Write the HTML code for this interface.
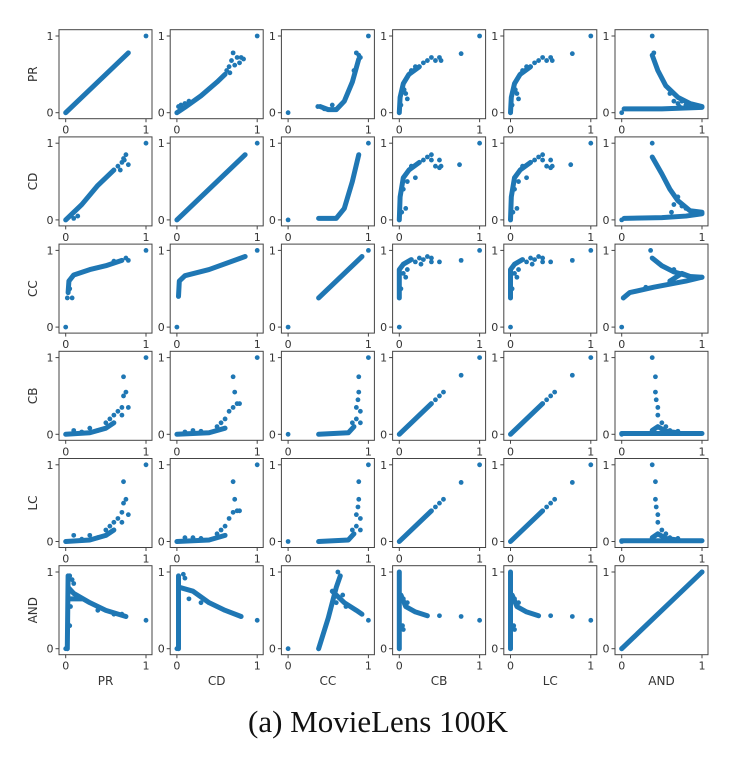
<!DOCTYPE html>
<html><head><meta charset="utf-8"><style>
body{margin:0;background:#fff;width:736px;height:760px;overflow:hidden}
svg{display:block}
</style></head><body>
<svg id="chart" width="736" height="760" xmlns="http://www.w3.org/2000/svg"></svg>
<script>
const metrics = ["PR","CD","CC","CB","LC","AND"];
const tickLabels = ["0","1"];
const caption = "(a) MovieLens 100K";
const rowPR = [
 {b:[[[0,0],[0.78,0.78]]], p:[[1,1]]},
 {b:[[[0,0],[0.1,0.07],[0.3,0.22],[0.5,0.4],[0.6,0.5]]], p:[[0.02,0.08],[0.05,0.1],[0.1,0.12],[0.15,0.15],[0.62,0.55],[0.65,0.6],[0.68,0.68],[0.7,0.78],[0.72,0.62],[0.75,0.72],[0.8,0.72],[0.83,0.7],[0.78,0.65],[0.66,0.52],[1,1]]},
 {b:[[[0.4,0.08],[0.5,0.04],[0.6,0.04],[0.7,0.15],[0.8,0.4],[0.88,0.7]]], p:[[0,0],[1,1],[0.37,0.08],[0.45,0.05],[0.55,0.1],[0.85,0.78],[0.88,0.75],[0.9,0.72],[0.82,0.55]]},
 {b:[[[0,0],[0.01,0.2],[0.05,0.38],[0.12,0.5],[0.25,0.6]]], p:[[0.02,0.1],[0.08,0.25],[0.1,0.18],[0.06,0.3],[0.15,0.55],[0.2,0.6],[0.3,0.65],[0.35,0.68],[0.4,0.72],[0.5,0.72],[0.52,0.68],[0.45,0.68],[0.77,0.77],[1,1]]},
 {b:[[[0,0],[0.01,0.2],[0.05,0.38],[0.12,0.5],[0.25,0.6]]], p:[[0.02,0.1],[0.08,0.25],[0.1,0.18],[0.06,0.3],[0.15,0.55],[0.2,0.6],[0.3,0.65],[0.35,0.68],[0.4,0.72],[0.5,0.72],[0.52,0.68],[0.45,0.68],[0.77,0.77],[1,1]]},
 {b:[[[0.03,0.05],[0.5,0.05],[1,0.07]],[[0.38,0.75],[0.45,0.55],[0.55,0.35],[0.7,0.2],[0.85,0.12],[1,0.08]]], p:[[0,0],[0.38,1],[0.4,0.78],[0.6,0.25],[0.65,0.15],[0.7,0.12],[0.75,0.15],[0.8,0.1],[0.72,0.08]]}
];
const rowCD = [
 {b:[[[0,0],[0.2,0.2],[0.4,0.45],[0.6,0.65]]], p:[[0.1,0.02],[0.15,0.05],[0.65,0.7],[0.7,0.75],[0.72,0.8],[0.75,0.85],[0.68,0.65],[0.78,0.72],[0.73,0.78],[1,1]]},
 {b:[[[0,0],[0.85,0.85]]], p:[[1,1]]},
 {b:[[[0.38,0.02],[0.6,0.02],[0.7,0.15],[0.8,0.5],[0.88,0.85]]], p:[[0,0],[1,1]]},
 {b:[[[0,0],[0.01,0.3],[0.05,0.55],[0.12,0.65],[0.25,0.75]]], p:[[0.03,0.1],[0.08,0.15],[0.05,0.4],[0.1,0.5],[0.15,0.7],[0.3,0.78],[0.35,0.82],[0.4,0.85],[0.4,0.78],[0.5,0.78],[0.5,0.68],[0.52,0.7],[0.45,0.7],[0.2,0.55],[0.75,0.72],[1,1]]},
 {b:[[[0,0],[0.01,0.3],[0.05,0.55],[0.12,0.65],[0.25,0.75]]], p:[[0.03,0.1],[0.08,0.15],[0.05,0.4],[0.1,0.5],[0.15,0.7],[0.3,0.78],[0.35,0.82],[0.4,0.85],[0.4,0.78],[0.5,0.78],[0.5,0.68],[0.52,0.7],[0.45,0.7],[0.2,0.55],[0.75,0.72],[1,1]]},
 {b:[[[0.03,0.02],[0.5,0.03],[0.8,0.05],[1,0.08]],[[0.38,0.82],[0.5,0.6],[0.6,0.4],[0.7,0.25],[0.85,0.12],[1,0.1]]], p:[[0,0],[0.38,1],[0.65,0.2],[0.7,0.3],[0.75,0.18],[0.8,0.15],[0.62,0.1]]}
];
const rowCC = [
 {b:[[[0.03,0.45],[0.04,0.6],[0.1,0.68],[0.3,0.75],[0.5,0.8],[0.7,0.87]]], p:[[0,0],[1,1],[0.02,0.38],[0.08,0.38],[0.05,0.5],[0.75,0.9],[0.78,0.87],[0.6,0.86]]},
 {b:[[[0.02,0.4],[0.03,0.6],[0.1,0.67],[0.4,0.75],[0.85,0.92]]], p:[[0,0],[1,1]]},
 {b:[[[0.38,0.38],[0.92,0.92]]], p:[[0,0],[1,1]]},
 {b:[[[0,0.38],[0,0.75],[0.05,0.82],[0.15,0.88]]], p:[[0.02,0.5],[0.05,0.7],[0.08,0.65],[0.1,0.75],[0.2,0.85],[0.25,0.9],[0.3,0.88],[0.35,0.92],[0.4,0.9],[0.4,0.85],[0.5,0.85],[0.27,0.82],[0.77,0.87],[0,0],[1,1]]},
 {b:[[[0,0.38],[0,0.75],[0.05,0.82],[0.15,0.88]]], p:[[0.02,0.5],[0.05,0.7],[0.08,0.65],[0.1,0.75],[0.2,0.85],[0.25,0.9],[0.3,0.88],[0.35,0.92],[0.4,0.9],[0.4,0.85],[0.5,0.85],[0.27,0.82],[0.77,0.87],[0,0],[1,1]]},
 {b:[[[0.02,0.38],[0.1,0.45],[0.4,0.52],[0.8,0.6],[1,0.65]],[[0.38,0.9],[0.5,0.8],[0.65,0.72],[0.85,0.66],[1,0.65]],[[0.6,0.6],[0.75,0.7],[0.9,0.64]]], p:[[0,0],[0.36,1],[0.6,0.6],[0.7,0.58],[0.75,0.7],[0.65,0.75],[0.3,0.52]]}
];
const rowCB = [
 {b:[[[0,0],[0.3,0.02],[0.5,0.08],[0.6,0.15]]], p:[[0.1,0.05],[0.2,0.03],[0.3,0.08],[0.4,0.05],[0.5,0.15],[0.55,0.2],[0.6,0.25],[0.65,0.3],[0.7,0.35],[0.72,0.5],[0.75,0.55],[0.72,0.75],[0.78,0.35],[0.7,0.25],[1,1]]},
 {b:[[[0,0],[0.4,0.02],[0.6,0.08]]], p:[[0.1,0.03],[0.2,0.05],[0.3,0.04],[0.5,0.1],[0.55,0.15],[0.6,0.2],[0.65,0.3],[0.7,0.35],[0.72,0.55],[0.75,0.4],[0.7,0.75],[0.78,0.4],[1,1]]},
 {b:[[[0.38,0],[0.75,0.02],[0.82,0.1]]], p:[[0,0],[1,1],[0.85,0.2],[0.85,0.35],[0.87,0.45],[0.88,0.55],[0.88,0.75],[0.9,0.3],[0.8,0.15],[0.9,0.15]]},
 {b:[[[0,0],[0.4,0.4]]], p:[[0.45,0.45],[0.5,0.5],[0.55,0.55],[0.77,0.77],[1,1]]},
 {b:[[[0,0],[0.4,0.4]]], p:[[0.45,0.45],[0.5,0.5],[0.55,0.55],[0.77,0.77],[1,1]]},
 {b:[[[0,0.01],[1,0.01]],[[0.38,0.05],[0.45,0.1],[0.55,0.04],[0.7,0.02]]], p:[[0.38,1],[0.42,0.75],[0.42,0.55],[0.43,0.45],[0.45,0.35],[0.45,0.25],[0.5,0.15],[0.55,0.1],[0.6,0.05],[0.7,0.04],[0,0]]}
];
const rowLC = [
 {b:[[[0,0],[0.3,0.02],[0.5,0.08],[0.6,0.15]]], p:[[0.1,0.08],[0.2,0.03],[0.3,0.08],[0.4,0.05],[0.5,0.15],[0.55,0.2],[0.6,0.25],[0.65,0.3],[0.7,0.38],[0.72,0.5],[0.75,0.55],[0.72,0.78],[0.78,0.35],[0.7,0.25],[1,1]]},
 {b:[[[0,0],[0.4,0.02],[0.6,0.08]]], p:[[0.1,0.05],[0.2,0.05],[0.3,0.04],[0.5,0.1],[0.55,0.15],[0.6,0.2],[0.65,0.3],[0.7,0.38],[0.72,0.55],[0.75,0.4],[0.7,0.78],[0.78,0.4],[1,1]]},
 {b:[[[0.38,0],[0.75,0.02],[0.82,0.1]]], p:[[0,0],[1,1],[0.85,0.2],[0.85,0.35],[0.87,0.45],[0.88,0.55],[0.88,0.78],[0.9,0.3],[0.8,0.15],[0.9,0.15]]},
 {b:[[[0,0],[0.4,0.4]]], p:[[0.45,0.45],[0.5,0.5],[0.55,0.55],[0.77,0.77],[1,1]]},
 {b:[[[0,0],[0.4,0.4]]], p:[[0.45,0.45],[0.5,0.5],[0.55,0.55],[0.77,0.77],[1,1]]},
 {b:[[[0,0.01],[1,0.01]],[[0.38,0.05],[0.45,0.1],[0.55,0.04],[0.7,0.02]]], p:[[0.38,1],[0.42,0.78],[0.42,0.55],[0.43,0.45],[0.45,0.35],[0.45,0.25],[0.5,0.15],[0.55,0.1],[0.6,0.05],[0.7,0.04],[0,0]]}
];
const rowAND = [
 {b:[[[0.02,0],[0.03,0.95]],[[0.03,0.8],[0.1,0.72],[0.3,0.6],[0.5,0.5],[0.75,0.42]],[[0.04,0.65],[0.2,0.65]]], p:[[0.05,0.95],[0.08,0.9],[0.1,0.85],[0.4,0.5],[0.6,0.45],[0.7,0.45],[1,0.37],[0.05,0.3],[0.06,0.55],[0,0]]},
 {b:[[[0.02,0],[0.02,0.95]],[[0.03,0.8],[0.2,0.75],[0.4,0.6],[0.6,0.5],[0.8,0.42]]], p:[[1,0.37],[0.1,0.92],[0.15,0.65],[0.3,0.6],[0.08,0.97],[0,0]]},
 {b:[[[0.38,0],[0.5,0.4],[0.6,0.8],[0.65,0.95]],[[0.55,0.75],[0.7,0.6],[0.85,0.5],[0.92,0.45]]], p:[[0,0],[1,0.37],[0.62,1],[0.6,0.6],[0.68,0.7],[0.72,0.55]]},
 {b:[[[0,0],[0,1]],[[0.02,0.7],[0.08,0.55],[0.2,0.48],[0.35,0.43]]], p:[[0.5,0.43],[0.77,0.42],[1,0.37],[0.05,0.65],[0.1,0.6],[0.04,0.3],[0.05,0.25]]},
 {b:[[[0,0],[0,1]],[[0.02,0.7],[0.08,0.55],[0.2,0.48],[0.35,0.43]]], p:[[0.5,0.43],[0.77,0.42],[1,0.37],[0.05,0.65],[0.1,0.6],[0.04,0.3],[0.05,0.25]]},
 {b:[[[0,0],[1,1]]], p:[[0,0],[1,1]]}
];
const panels = [rowPR,rowCD,rowCC,rowCB,rowLC,rowAND];

const NS="http://www.w3.org/2000/svg";
const svg=document.getElementById('chart');
const L0=59, T0=29.7, DX=111.2, DY=107.2, W=93, H=89, COLOR="#1f77b4";
function mk(tag,attrs){const e=document.createElementNS(NS,tag);for(const k in attrs)e.setAttribute(k,attrs[k]);svg.appendChild(e);return e;}
function xScale(c,v){return L0+DX*c+6.7+80.3*v;}
function yScale(r,v){return T0+DY*r+83-76.7*v;}
const mlow=metrics.map(m=>m.toLowerCase());
for(let r=0;r<6;r++){for(let c=0;c<6;c++){
  const left=L0+DX*c, top=T0+DY*r, pn=panels[r][c];
  const box=mk('rect',{x:left,y:top,width:W,height:H,fill:'#fff',stroke:'#444','stroke-width':1});
  
  
  pn.b.forEach(band=>{
    const pl=mk('polyline',{points:band.map(d=>xScale(c,d[0])+','+yScale(r,d[1])).join(' '),fill:'none',stroke:COLOR,'stroke-width':5,'stroke-linecap':'round','stroke-linejoin':'round'});
    
    
  });
  pn.p.forEach(d=>{
    const ci=mk('circle',{cx:xScale(c,d[0]),cy:yScale(r,d[1]),r:2.4,fill:COLOR});
    
    
  });
  [0,1].forEach(v=>{
    const yy=yScale(r,v);
    mk('line',{x1:left-3.5,x2:left,y1:yy,y2:yy,stroke:'#444','stroke-width':1});
    const yt=mk('text',{x:left-5.5,y:yy+4,'text-anchor':'end','font-size':11,fill:'#333','font-family':'DejaVu Sans, sans-serif'});
    yt.textContent=tickLabels[v];
    
    
    const xx=xScale(c,v);
    mk('line',{x1:xx,x2:xx,y1:top+H,y2:top+H+3.5,stroke:'#444','stroke-width':1});
    const xt=mk('text',{x:xx,y:top+H+15,'text-anchor':'middle','font-size':11,fill:'#333','font-family':'DejaVu Sans, sans-serif'});
    xt.textContent=tickLabels[v];
    
    
  });
}}
metrics.forEach((m,i)=>{
  const cy=T0+DY*i+H/2;
  const t=mk('text',{x:0,y:0,transform:'translate(37,'+cy+') rotate(-90)','text-anchor':'middle','font-size':12,fill:'#333','font-family':'DejaVu Sans, sans-serif'});
  t.textContent=m;
  
  
  const t2=mk('text',{x:L0+DX*i+W/2,y:685,'text-anchor':'middle','font-size':12,fill:'#333','font-family':'DejaVu Sans, sans-serif'});
  t2.textContent=m;
  
  
});
const cap=mk('text',{x:378,y:732,'text-anchor':'middle','font-size':31,fill:'#111','font-family':'Liberation Serif, serif'});
cap.textContent=caption;


</script>
</body></html>
